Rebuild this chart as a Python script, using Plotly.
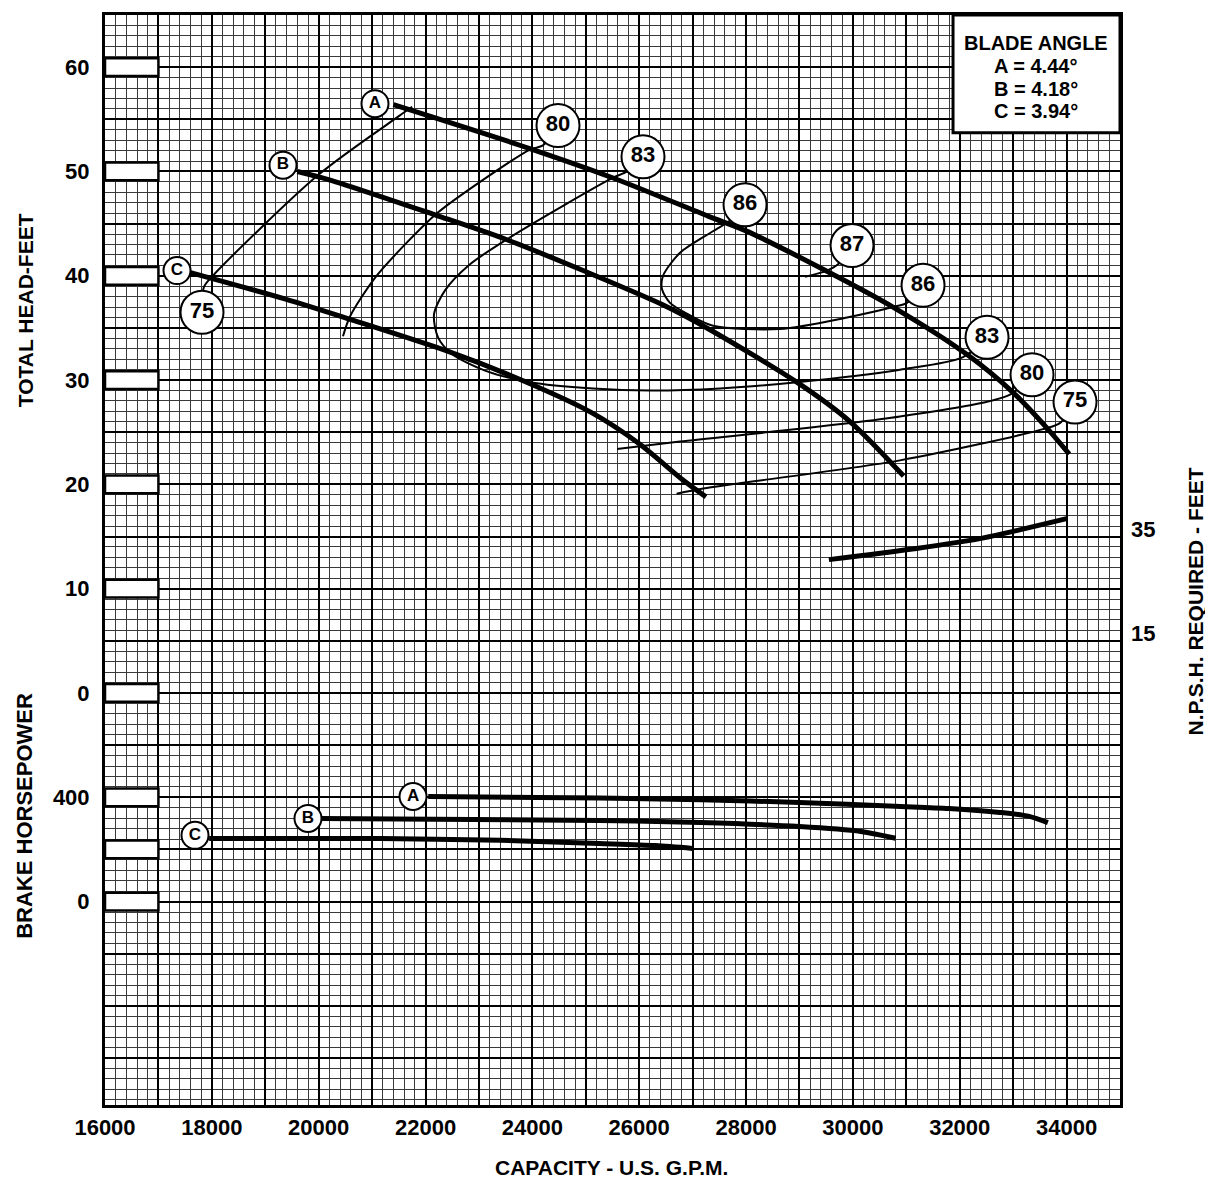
import plotly.graph_objects as go

# ---------------- data ----------------
# capacity axis (U.S. GPM) and total head axis (ft)
x_range = [16000, 35000]
head_range = [-39.5, 65.0]
x_major_step = 1000
x_minor_step = 200
y_major_step = 5
y_minor_step = 1
x_label_vals = [16000, 18000, 20000, 22000, 24000, 26000, 28000, 30000, 32000, 34000]
x_label_text = ["16000", "18000", "20000", "22000", "24000", "26000", "28000", "30000", "32000", "34000"]

# left scale: head ticks (ft) and brake-horsepower ticks placed on the same axis
left_label_pos = [60, 50, 40, 30, 20, 10, 0, -10, -20]
left_label_text = ["60", "50", "40", "30", "20", "10", "0", "400", "0"]
left_box_pos = [60, 50, 40, 30, 20, 10, 0, -10, -15, -20]

# BHP scale: BHP = bhp_at_zero_head + bhp_per_ft * head
bhp_at_zero_head = 800.0
bhp_per_ft = 40.0
# NPSH scale: NPSH = npsh_at_zero_head + npsh_per_ft * head
npsh_at_zero_head = 3.46
npsh_per_ft = 2.013
npsh_tick_vals = [15, 35]

# head-capacity curves for blade angles A, B, C
head_A_gpm = [21400, 23950, 25500, 27300, 28000, 29450, 30750, 32150, 33000, 33650, 34050]
head_A_ft = [56.4, 52.2, 49.4, 45.7, 44.3, 40.6, 37.0, 32.4, 28.8, 25.3, 22.9]
head_B_gpm = [19600, 20200, 22200, 23500, 24950, 26450, 27300, 28950, 29950, 30950]
head_B_ft = [50.0, 49.2, 45.8, 43.5, 40.5, 37.2, 34.9, 29.8, 26.0, 20.8]
head_C_gpm = [17600, 19350, 20600, 22450, 23750, 25100, 26000, 26800, 27250]
head_C_ft = [40.3, 37.8, 35.8, 32.7, 30.1, 26.9, 23.9, 20.5, 18.8]

# iso-efficiency curves (%)
eff75_left_gpm = [17816, 17850, 18000, 20000, 21500, 21750]
eff75_left_ft = [36.5, 38.9, 39.9, 49.7, 55.3, 56.2]
eff75_right_gpm = [26700, 27200, 30880, 33560, 33880, 34158]
eff75_right_ft = [19.1, 19.6, 22.3, 25.3, 25.9, 27.9]
eff80_left_gpm = [20455, 20586, 21054, 21653, 22215, 23076, 23956, 24199, 24480]
eff80_left_ft = [34.2, 36.1, 39.8, 43.2, 46.0, 49.2, 52.1, 52.5, 54.4]
eff80_right_gpm = [25585, 26764, 30882, 32942, 33353]
eff80_right_ft = [23.4, 24.1, 26.5, 28.6, 30.5]
eff83_gpm = [26071, 25772, 25510, 24574, 23525, 22833, 22365, 22159, 22234, 22496, 23114,
             23956, 25135, 26202, 27513, 28954, 30882, 32062, 32511]
eff83_ft = [51.4, 50.0, 49.4, 46.7, 43.5, 41.1, 38.6, 36.3, 34.1, 32.5, 30.9,
            29.8, 29.2, 29.0, 29.2, 29.8, 31.0, 32.2, 34.1]
eff86_gpm = [27981, 27700, 27326, 26764, 26446, 26427, 26577, 26951, 27382, 28636, 29890, 30751, 31013, 31313]
eff86_ft = [46.8, 45.3, 44.1, 42.2, 40.0, 38.7, 37.4, 36.2, 35.2, 34.9, 36.0, 37.0, 37.4, 39.1]
eff87_gpm = [29104, 29516, 29722, 29984]
eff87_ft = [39.9, 40.5, 41.1, 42.9]

# efficiency label circles
eff_label_text = ["75", "80", "83", "86", "87", "86", "83", "80", "75"]
eff_label_gpm = [17816, 24480, 26071, 27981, 29984, 31313, 32511, 33353, 34158]
eff_label_ft = [36.5, 54.4, 51.4, 46.8, 42.9, 39.1, 34.1, 30.5, 27.9]

# blade angle letter circles on head curves
head_letter_text = ["A", "B", "C"]
head_letter_gpm = [21054, 19332, 17348]
head_letter_ft = [56.5, 50.6, 40.5]

# brake horsepower curves
bhp_A_gpm = [22050, 25250, 27150, 29000, 30900, 31800, 32750, 33300, 33650]
bhp_A = [403, 397, 391, 380, 365, 357, 342, 327, 303]
bhp_B_gpm = [20050, 25250, 27150, 29000, 30150, 30800]
bhp_B = [319, 311, 303, 288, 269, 243]
bhp_C_gpm = [17950, 21150, 23400, 25250, 26300, 27000]
bhp_C = [242, 242, 235, 223, 215, 204]
bhp_letter_text = ["A", "B", "C"]
bhp_letter_gpm = [21766, 19800, 17685]
bhp_letter_val = [403, 319, 254]

# NPSH required curve
npsh_gpm = [29550, 31150, 32400, 34000]
npsh_ft = [29.2, 31.3, 33.3, 37.1]

legend_title = "BLADE ANGLE"
legend_lines = ["A = 4.44°", "B = 4.18°", "C = 3.94°"]

# ---------------- figure ----------------
FONT = "Liberation Sans, Arial, Helvetica, sans-serif"
BLACK = "#000000"

fig = go.Figure()

thick = dict(color=BLACK, width=5, shape="spline", smoothing=0.8)
thin = dict(color=BLACK, width=2, shape="spline", smoothing=0.8)

for gx, gy in [(eff75_left_gpm, eff75_left_ft), (eff75_right_gpm, eff75_right_ft),
               (eff80_left_gpm, eff80_left_ft), (eff80_right_gpm, eff80_right_ft),
               (eff83_gpm, eff83_ft), (eff86_gpm, eff86_ft), (eff87_gpm, eff87_ft)]:
    fig.add_trace(go.Scatter(x=gx, y=gy, mode="lines", line=thin, hoverinfo="skip"))

for gx, gy in [(head_A_gpm, head_A_ft), (head_B_gpm, head_B_ft), (head_C_gpm, head_C_ft)]:
    fig.add_trace(go.Scatter(x=gx, y=gy, mode="lines", line=thick, hoverinfo="skip"))

for gx, gy in [(bhp_A_gpm, bhp_A), (bhp_B_gpm, bhp_B), (bhp_C_gpm, bhp_C)]:
    fig.add_trace(go.Scatter(x=gx, y=gy, mode="lines", line=thick, yaxis="y3", hoverinfo="skip"))

fig.add_trace(go.Scatter(x=npsh_gpm, y=npsh_ft, mode="lines", line=thick, yaxis="y2", hoverinfo="skip"))

# label circles
fig.add_trace(go.Scatter(
    x=eff_label_gpm, y=eff_label_ft, mode="markers+text", text=eff_label_text,
    textposition="middle center",
    textfont=dict(family=FONT, size=22, color=BLACK, weight="bold"),
    marker=dict(size=43, color="white", line=dict(color=BLACK, width=2)),
    hoverinfo="skip"))
fig.add_trace(go.Scatter(
    x=head_letter_gpm, y=head_letter_ft, mode="markers+text", text=head_letter_text,
    textposition="middle center",
    textfont=dict(family=FONT, size=17, color=BLACK, weight="bold"),
    marker=dict(size=27, color="white", line=dict(color=BLACK, width=2)),
    hoverinfo="skip"))
fig.add_trace(go.Scatter(
    x=bhp_letter_gpm, y=bhp_letter_val, mode="markers+text", text=bhp_letter_text, yaxis="y3",
    textposition="middle center",
    textfont=dict(family=FONT, size=17, color=BLACK, weight="bold"),
    marker=dict(size=27, color="white", line=dict(color=BLACK, width=2)),
    hoverinfo="skip"))

# axes
x_major = list(range(x_range[0], x_range[1] + 1, x_major_step))
x_text = [x_label_text[x_label_vals.index(v)] if v in x_label_vals else "" for v in x_major]
y_major = list(range(-35, 61, y_major_step))
y_text = [left_label_text[left_label_pos.index(v)] if v in left_label_pos else "" for v in y_major]

tickfont = dict(family=FONT, size=22, color=BLACK, weight="bold")

# page body has an 8px default margin: the figure is sized so the plot area lands where the reference has it
fig.update_layout(
    width=1205, height=1173,
    margin=dict(l=97, r=93, t=4, b=76),
    paper_bgcolor="white", plot_bgcolor="white",
    showlegend=False,
    xaxis=dict(
        range=x_range, tickmode="array", tickvals=x_major, ticktext=x_text,
        showgrid=True, gridcolor=BLACK, gridwidth=2,
        minor=dict(tickmode="linear", tick0=x_range[0], dtick=x_minor_step,
                   showgrid=True, gridcolor="#3a3a3a", gridwidth=1, ticks=""),
        ticks="", ticklabelstandoff=1, tickfont=tickfont,
        showline=True, mirror=True, linecolor=BLACK, linewidth=3, zeroline=False,
    ),
    yaxis=dict(
        range=head_range, tickmode="array", tickvals=y_major, ticktext=y_text,
        showgrid=True, gridcolor=BLACK, gridwidth=2,
        minor=dict(tickmode="linear", tick0=0, dtick=y_minor_step,
                   showgrid=True, gridcolor="#3a3a3a", gridwidth=1, ticks=""),
        ticks="", ticklabelstandoff=8, tickfont=tickfont,
        showline=True, mirror=True, linecolor=BLACK, linewidth=3, zeroline=False,
    ),
    yaxis2=dict(
        overlaying="y", side="right",
        range=[npsh_at_zero_head + npsh_per_ft * head_range[0], npsh_at_zero_head + npsh_per_ft * head_range[1]],
        tickmode="array", tickvals=npsh_tick_vals, ticktext=[str(v) for v in npsh_tick_vals],
        showgrid=False, zeroline=False, showline=False, ticks="", ticklabelstandoff=10,
        tickfont=tickfont,
    ),
    yaxis3=dict(
        overlaying="y", visible=False,
        range=[bhp_at_zero_head + bhp_per_ft * head_range[0], bhp_at_zero_head + bhp_per_ft * head_range[1]],
        showgrid=False, zeroline=False,
    ),
)

# white tick boxes in the first grid column
shapes = []
for p in left_box_pos:
    shapes.append(dict(type="rect", xref="x", yref="y", layer="above",
                       x0=x_range[0], x1=x_range[0] + x_major_step, y0=p - 0.85, y1=p + 0.85,
                       fillcolor="white", line=dict(color=BLACK, width=2.5)))
# blade angle box
shapes.append(dict(type="rect", xref="paper", yref="paper", layer="above",
                   x0=0.8355, x1=1.0, y0=0.892, y1=1.0,
                   fillcolor="white", line=dict(color=BLACK, width=3)))
fig.update_layout(shapes=shapes)

annots = []
legend_y = [0.9744, 0.9533, 0.9323, 0.9122]
for txt, yy in zip([legend_title] + legend_lines, legend_y):
    annots.append(dict(text=txt, x=0.9172, y=yy, xref="paper", yref="paper",
                       xanchor="center", yanchor="middle", showarrow=False,
                       font=dict(family=FONT, size=20, color=BLACK, weight="bold")))
title_font = dict(family=FONT, size=21, color=BLACK, weight="bold")
annots.append(dict(text="TOTAL HEAD-FEET", x=-0.0788, y=0.7292, xref="paper", yref="paper",
                   textangle=-90, showarrow=False, xanchor="center", yanchor="middle", font=title_font))
annots.append(dict(text="BRAKE HORSEPOWER", x=-0.0788, y=0.2653, xref="paper", yref="paper",
                   textangle=-90, showarrow=False, xanchor="center", yanchor="middle",
                   font=dict(family=FONT, size=22, color=BLACK, weight="bold")))
annots.append(dict(text="N.P.S.H. REQUIRED - FEET", x=1.0739, y=0.462, xref="paper", yref="paper",
                   textangle=-90, showarrow=False, xanchor="center", yanchor="middle", font=title_font))
annots.append(dict(text="CAPACITY - U.S. G.P.M.", x=0.4995, y=-0.0576, xref="paper", yref="paper",
                   showarrow=False, xanchor="center", yanchor="middle", font=title_font))
fig.update_layout(annotations=annots)

fig.write_html("out.html")
